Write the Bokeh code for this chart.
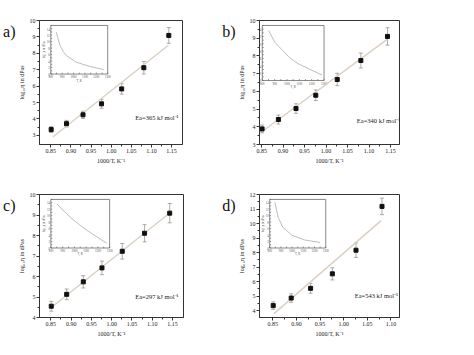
import math
from bokeh.plotting import figure
from bokeh.models import (Range1d, FixedTicker, Label, Whisker, ColumnDataSource,
                          TeeHead, NumeralTickFormatter, LinearAxis)
from bokeh.layouts import column, row
from bokeh.embed import file_html
from bokeh.resources import INLINE
from bokeh.core.properties import value

FONT = "Liberation Serif"

# ---------------- data ----------------
X_INV_T = [0.851, 0.889, 0.930, 0.976, 1.026, 1.081, 1.143]   # 1000/T, K^-1
X_INV_T_D = [0.851, 0.889, 0.930, 0.976, 1.026, 1.081]

A_LOG_ETA = [3.35, 3.71, 4.25, 4.92, 5.83, 7.12, 9.09]
A_ERR = [0.18, 0.20, 0.22, 0.27, 0.32, 0.38, 0.48]
A_FIT_X = [0.855, 1.142]
A_FIT_Y = [2.90, 8.49]

B_LOG_ETA = [3.88, 4.41, 5.03, 5.78, 6.67, 7.74, 9.10]
B_ERR = [0.22, 0.25, 0.27, 0.30, 0.35, 0.42, 0.49]
B_FIT_X = [0.852, 1.143]
B_FIT_Y = [3.75, 8.95]

C_LOG_ETA = [4.55, 5.13, 5.74, 6.42, 7.23, 8.11, 9.09]
C_ERR = [0.24, 0.26, 0.30, 0.33, 0.38, 0.42, 0.47]
C_FIT_X = [0.852, 1.143]
C_FIT_Y = [4.50, 9.10]

D_LOG_ETA = [4.34, 4.86, 5.53, 6.53, 8.16, 11.18]
D_ERR = [0.26, 0.29, 0.34, 0.42, 0.50, 0.57]
D_FIT_X = [0.852, 1.079]
D_FIT_Y = [3.77, 10.20]

EA_TEXT = ["Ea=365 kJ mol\u207b\u00b9", "Ea=340 kJ mol\u207b\u00b9",
           "Ea=297 kJ mol\u207b\u00b9", "Ea=543 kJ mol\u207b\u00b9"]
PANEL_LETTERS = ["a)", "b)", "c)", "d)"]

X_TICKS_ABC = [0.85, 0.90, 0.95, 1.00, 1.05, 1.10, 1.15]
X_TICKS_D = [0.85, 0.90, 0.95, 1.00, 1.05, 1.10]
Y_TICKS_AB = [3, 4, 5, 6, 7, 8, 9, 10]
Y_TICKS_C = [4, 5, 6, 7, 8, 9, 10]
Y_TICKS_D = [4, 5, 6, 7, 8, 9, 10, 11, 12]

# insets: viscosity vs temperature curves
INSET_T_TICKS = [800, 850, 900, 950, 1000, 1050, 1100, 1150, 1200, 1250, 1300]
INSET_T_LABELS = [800, 900, 1000, 1100, 1200, 1300]
INSET_Y_TICKS = list(range(0, 16))
INSET_Y_LABELS = [0, 2, 4, 6, 8, 10, 12, 14]

A_INSET_T = [849, 860, 882, 910, 938, 1021, 1137, 1264]
A_INSET_Y = [12.9, 11.3, 8.8, 6.9, 5.7, 3.7, 2.4, 1.4]
B_INSET_T = [852, 901, 956, 1019, 1089, 1214, 1284]
B_INSET_Y = [13.6, 10.4, 8.5, 6.3, 4.6, 2.6, 1.5]
C_INSET_T = [852, 921, 994, 1074, 1155, 1235, 1276]
C_INSET_Y = [13.6, 11.0, 8.6, 6.3, 4.3, 2.4, 1.5]
D_INSET_T = [846, 875, 917, 1000, 1111, 1250]
D_INSET_Y = [14.1, 9.5, 6.4, 3.9, 2.5, 1.7]

AXIS_C = "#333333"
TEXT_C = "#222222"
AXIS_PROPS = LinearAxis.properties()


def panel(x, y, err, fit_x, fit_y, ea, letter, xr, yr, xticks, yticks,
          ins_t, ins_y, W, H, borders, fig_origin, ins_box, ea_px):
    bl, br, bt, bb = borders
    fw = W - bl - br
    fh = H - bt - bb
    ox, oy = fig_origin
    fl = ox + bl          # absolute frame left
    ft = oy + bt          # absolute frame top

    def dx(px):
        return xr[0] + (px - fl) / fw * (xr[1] - xr[0])

    def dy(py):
        return yr[1] - (py - ft) / fh * (yr[1] - yr[0])

    p = figure(width=W, height=H, x_range=Range1d(*xr), y_range=Range1d(*yr),
               output_backend="svg", toolbar_location=None,
               min_border_left=bl, min_border_right=br,
               min_border_top=bt, min_border_bottom=bb)
    p.grid.visible = False
    p.outline_line_color = AXIS_C
    p.outline_line_width = 1
    p.background_fill_color = "white"
    p.border_fill_color = "white"

    mids = [(a + b) / 2 for a, b in zip(xticks[:-1], xticks[1:])]
    p.xaxis.ticker = FixedTicker(ticks=xticks, minor_ticks=mids)
    p.xaxis.formatter = NumeralTickFormatter(format="0.00")
    ymids = [v + 0.5 for v in yticks[:-1]]
    p.yaxis.ticker = FixedTicker(ticks=yticks, minor_ticks=ymids)
    p.xaxis.axis_label = "1000/T, K\u207b\u00b9"
    p.yaxis.axis_label = "log\u2081\u2080\u03b7 in dPas"
    for ax in (p.xaxis[0], p.yaxis[0]):
        ax.axis_line_color = AXIS_C
        ax.major_tick_line_color = AXIS_C
        ax.minor_tick_line_color = AXIS_C
        ax.major_tick_in = 0
        ax.major_tick_out = 3
        ax.minor_tick_in = 0
        ax.minor_tick_out = 2
        ax.major_label_text_font = FONT
        ax.major_label_text_font_size = "6px"
        ax.major_label_text_color = TEXT_C
        ax.major_label_standoff = 1
        ax.axis_label_text_font = FONT
        ax.axis_label_text_font_size = "6px"
        ax.axis_label_text_font_style = "normal"
        ax.axis_label_text_color = TEXT_C
        ax.axis_label_standoff = 2

    # panel letter: an empty left axis whose (multi-line, centred) label puts
    # the letter in its first line, near the top of the frame
    letter_text = "\n".join([letter] + ["\u00a0"] * 5)
    lax = LinearAxis(ticker=FixedTicker(ticks=[]), axis_label=letter_text,
                     axis_line_alpha=0, major_tick_in=0, major_tick_out=0,
                     minor_tick_in=0, minor_tick_out=0, axis_label_standoff=0,
                     major_label_text_font_size="1px",
                     axis_label_text_font=FONT, axis_label_text_font_size="16px",
                     axis_label_text_font_style="normal",
                     axis_label_text_line_height=1.2,
                     axis_label_text_color="#111111")
    if "axis_label_orientation" in AXIS_PROPS:
        lax.axis_label_orientation = "horizontal"
    if "axis_label_align" in AXIS_PROPS:
        lax.axis_label_align = "center"
    p.add_layout(lax, "left")

    # ---- inset ----
    fx0, fx1, fy0, fy1 = ins_box
    t0, t1 = min(INSET_T_TICKS), max(INSET_T_TICKS)
    v0, v1 = min(INSET_Y_TICKS), max(INSET_Y_TICKS)
    sx = (t1 - t0) / (fx1 - fx0)
    xs = t0 - fx0 * sx
    sy = (v1 - v0) / (fy1 - fy0)
    ys = v0 - fy0 * sy
    p.extra_x_ranges = {"ix": Range1d(xs, xs + sx)}
    p.extra_y_ranges = {"iy": Range1d(ys, ys + sy)}
    ppx = sx / fw   # inset data per px (x)
    ppy = sy / fh   # inset data per px (y)
    kw = dict(x_range_name="ix", y_range_name="iy")
    p.quad(left=[t0], right=[t1], bottom=[v0], top=[v1], fill_color="white",
           fill_alpha=1, line_color="#555555", line_width=0.7, **kw)
    p.segment(x0=INSET_T_TICKS, x1=INSET_T_TICKS, y0=[v0] * len(INSET_T_TICKS),
              y1=[v0 + 1.5 * ppy] * len(INSET_T_TICKS), line_color="#555555",
              line_width=0.6, **kw)
    p.segment(x0=[t0] * len(INSET_Y_TICKS), x1=[t0 + 1.5 * ppx] * len(INSET_Y_TICKS),
              y0=INSET_Y_TICKS, y1=INSET_Y_TICKS, line_color="#555555",
              line_width=0.6, **kw)
    p.text(x=INSET_T_LABELS, y=[v0 - 1 * ppy] * len(INSET_T_LABELS),
           text=[str(v) for v in INSET_T_LABELS], text_font=value(FONT),
           text_font_size="3px", text_align="center", text_baseline="top",
           text_color="#555555", **kw)
    p.text(x=[t0 - 1 * ppx] * len(INSET_Y_LABELS), y=INSET_Y_LABELS,
           text=[str(v) for v in INSET_Y_LABELS], text_font=value(FONT),
           text_font_size="3px", text_align="right", text_baseline="middle",
           text_color="#555555", **kw)
    p.text(x=[(t0 + t1) / 2], y=[v0 - 4.5 * ppy], text=["T, K"],
           text_font=value(FONT), text_font_size="3px", text_align="center",
           text_baseline="top", text_color="#555555", **kw)
    p.text(x=[t0 - 6 * ppx], y=[(v0 + v1) / 2], text=["log\u2081\u2080\u03b7 in dPas"],
           text_font=value(FONT), text_font_size="3px", text_align="center",
           text_baseline="bottom", angle=math.pi / 2, text_color="#555555", **kw)
    p.line(ins_t, ins_y, line_color="#bdbdbd", line_width=1.0, **kw)

    # ---- main data ----
    p.line(fit_x, fit_y, line_color="#dccfc1", line_width=1.4)
    src = ColumnDataSource(dict(x=x, lo=[a - e for a, e in zip(y, err)],
                                hi=[a + e for a, e in zip(y, err)]))
    p.add_layout(Whisker(base="x", lower="lo", upper="hi", source=src,
                         line_color="#8a8a8a", line_width=0.7,
                         upper_head=TeeHead(size=4, line_color="#8a8a8a", line_width=0.7),
                         lower_head=TeeHead(size=4, line_color="#8a8a8a", line_width=0.7)))
    p.scatter(x, y, marker="square", size=4, fill_color="#111111", line_color="#111111")

    p.add_layout(Label(x=dx(ea_px[0]), y=dy(ea_px[1]), text=ea, text_font=FONT,
                       text_font_size="6.5px", text_baseline="middle",
                       text_color=TEXT_C))
    return p


pa = panel(X_INV_T, A_LOG_ETA, A_ERR, A_FIT_X, A_FIT_Y, EA_TEXT[0], PANEL_LETTERS[0],
           (0.822, 1.177), (2.44, 10.0), X_TICKS_ABC, Y_TICKS_AB,
           A_INSET_T, A_INSET_Y, 219, 170, (31, 37, 20, 25), (8, 8),
           (0.079, 0.477, 0.568, 0.96), (140, 126))
pb = panel(X_INV_T, B_LOG_ETA, B_ERR, B_FIT_X, B_FIT_Y, EA_TEXT[1], PANEL_LETTERS[1],
           (0.845, 1.171), (3.0, 10.0), X_TICKS_ABC, Y_TICKS_AB,
           B_INSET_T, B_INSET_Y, 239, 170, (39, 59, 20, 26), (227, 8),
           (0.02, 0.461, 0.516, 0.96), (364, 128))
pc = panel(X_INV_T, C_LOG_ETA, C_ERR, C_FIT_X, C_FIT_Y, EA_TEXT[2], PANEL_LETTERS[2],
           (0.822, 1.177), (4.0, 10.0), X_TICKS_ABC, Y_TICKS_C,
           C_INSET_T, C_INSET_Y, 219, 169, (31, 36, 24, 21), (8, 178),
           (0.079, 0.487, 0.565, 0.96), (140, 305))
pd_ = panel(X_INV_T_D, D_LOG_ETA, D_ERR, D_FIT_X, D_FIT_Y, EA_TEXT[3], PANEL_LETTERS[3],
            (0.822, 1.118), (3.52, 12.0), X_TICKS_D, Y_TICKS_D,
            D_INSET_T, D_INSET_Y, 239, 169, (30, 59, 24, 21), (227, 178),
            (0.073, 0.473, 0.565, 0.96), (359, 304))

layout = column(row(pa, pb), row(pc, pd_))
open("out.html", "w").write(file_html(layout, INLINE))
